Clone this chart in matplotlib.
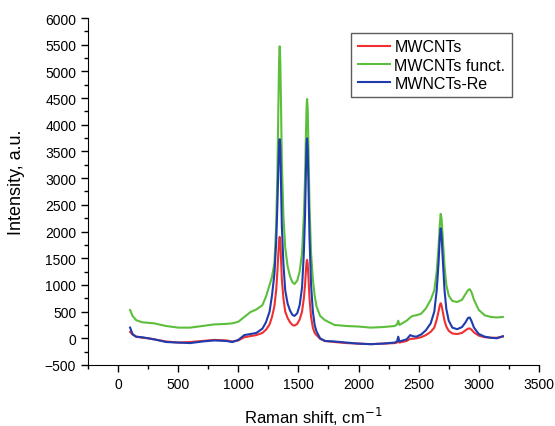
import matplotlib
matplotlib.use("Agg")
import matplotlib.pyplot as plt
from matplotlib.ticker import MultipleLocator

plt.rcParams['font.family'] = ['Liberation Sans', 'DejaVu Sans']

# Raman shift (cm-1)
shift = [100, 120, 150, 200, 250, 300, 400, 500, 600, 700, 800, 900, 950, 1000,
         1050, 1100, 1150, 1200, 1230, 1260, 1280, 1300, 1315, 1325, 1333, 1339,
         1344, 1349, 1355, 1362, 1375, 1390, 1410, 1430, 1450, 1467, 1490, 1510,
         1530, 1545, 1555, 1563, 1568, 1572, 1577, 1583, 1592, 1605, 1620, 1635,
         1650, 1680, 1720, 1800, 1900, 2000, 2100, 2200, 2300, 2320, 2330, 2340,
         2400, 2430, 2450, 2480, 2520, 2560, 2600, 2630, 2650, 2665, 2675, 2683,
         2690, 2700, 2715, 2730, 2750, 2780, 2820, 2860, 2890, 2910, 2925, 2940,
         2960, 3000, 3050, 3100, 3150, 3200]

mwcnt = [120, 70, 30, 10, 0, -20, -60, -80, -70, -50, -30, -40, -60, -40,
         20, 40, 60, 100, 160, 260, 400, 600, 900, 1250, 1600, 1820,
         1900, 1820, 1500, 1100, 750, 500, 380, 300, 250, 237, 270, 350,
         500, 750, 1000, 1300, 1430, 1470, 1400, 1150, 750, 400, 200, 100,
         60, -10, -50, -70, -90, -100, -110, -100, -90, -80, -50, -80,
         -50, -10, -10, 0, 20, 60, 120, 200, 350, 500, 610, 656,
         620, 500, 330, 220, 140, 90, 80, 100, 150, 180, 185, 160,
         110, 50, 20, 10, 10, 30]

mwcnt_funct = [530, 420, 340, 300, 290, 280, 230, 200, 200, 230, 260, 270, 280, 310,
               400, 490, 540, 620, 780, 1000, 1150, 1400, 2100, 3100, 4300, 5200,
               5470, 5200, 4400, 3300, 2300, 1700, 1350, 1160, 1050, 1017, 1080, 1250,
               1600, 2300, 3000, 3900, 4350, 4483, 4300, 3600, 2500, 1600, 1100, 800,
               600, 420, 340, 250, 230, 220, 200, 210, 230, 260, 330, 250,
               330, 390, 420, 430, 460, 560, 720, 900, 1250, 1700, 2100, 2330,
               2250, 1900, 1350, 1000, 800, 700, 680, 720, 830, 900, 920, 860,
               720, 530, 430, 400, 390, 400]

mwcnt_re = [200, 80, 30, 20, 0, -20, -70, -80, -90, -60, -40, -50, -70, -30,
            60, 80, 100, 180, 300, 500, 800, 1200, 1800, 2500, 3200, 3650,
            3730, 3600, 2900, 2100, 1400, 900, 650, 520, 440, 418, 470, 620,
            950, 1600, 2300, 3200, 3650, 3747, 3550, 2900, 1900, 1000, 500, 250,
            130, 0, -50, -60, -80, -100, -110, -100, -80, -60, 30, -60,
            -20, 60, 40, 30, 70, 150, 280, 500, 900, 1400, 1850, 2060,
            1950, 1500, 900, 550, 330, 200, 170, 210, 300, 380, 390, 320,
            200, 80, 30, 10, 0, 40]

labels = ['MWCNTs', 'MWCNTs funct.', 'MWNCTs-Re']
colors = ['#f03030', '#5cbf3c', '#1f3cae']

fig = plt.figure(figsize=(5.55, 4.27), dpi=100)
ax = fig.add_axes([0.1586, 0.1429, 0.8124, 0.8126])

for ys, lab, c in zip([mwcnt, mwcnt_funct, mwcnt_re], labels, colors):
    ax.plot(shift, ys, color=c, lw=1.5, label=lab)

ax.set_xlim(-250, 3500)
ax.set_ylim(-500, 6000)
ax.xaxis.set_major_locator(MultipleLocator(500))
ax.xaxis.set_minor_locator(MultipleLocator(250))
ax.yaxis.set_major_locator(MultipleLocator(500))
ax.yaxis.set_minor_locator(MultipleLocator(250))
ax.tick_params(which='major', direction='out', length=5, width=1, labelsize=10)
ax.tick_params(which='minor', direction='out', length=3, width=1)
ax.spines['top'].set_visible(False)
ax.spines['right'].set_visible(False)

ax.set_xlabel('Raman shift, cm$^{-1}$', fontsize=12, labelpad=10)
ax.set_ylabel('Intensity, a.u.', fontsize=13)
ax.yaxis.set_label_coords(-0.14, 0.53)

leg = ax.legend(loc='upper right', bbox_to_anchor=(0.94, 0.957), fontsize=11.5,
                frameon=True, fancybox=False, edgecolor='#333333',
                handlelength=2.0, borderpad=0.4, labelspacing=0.2,
                handletextpad=0.3, borderaxespad=0)
leg.get_frame().set_linewidth(1.0)

plt.savefig('out.png', dpi=100)
